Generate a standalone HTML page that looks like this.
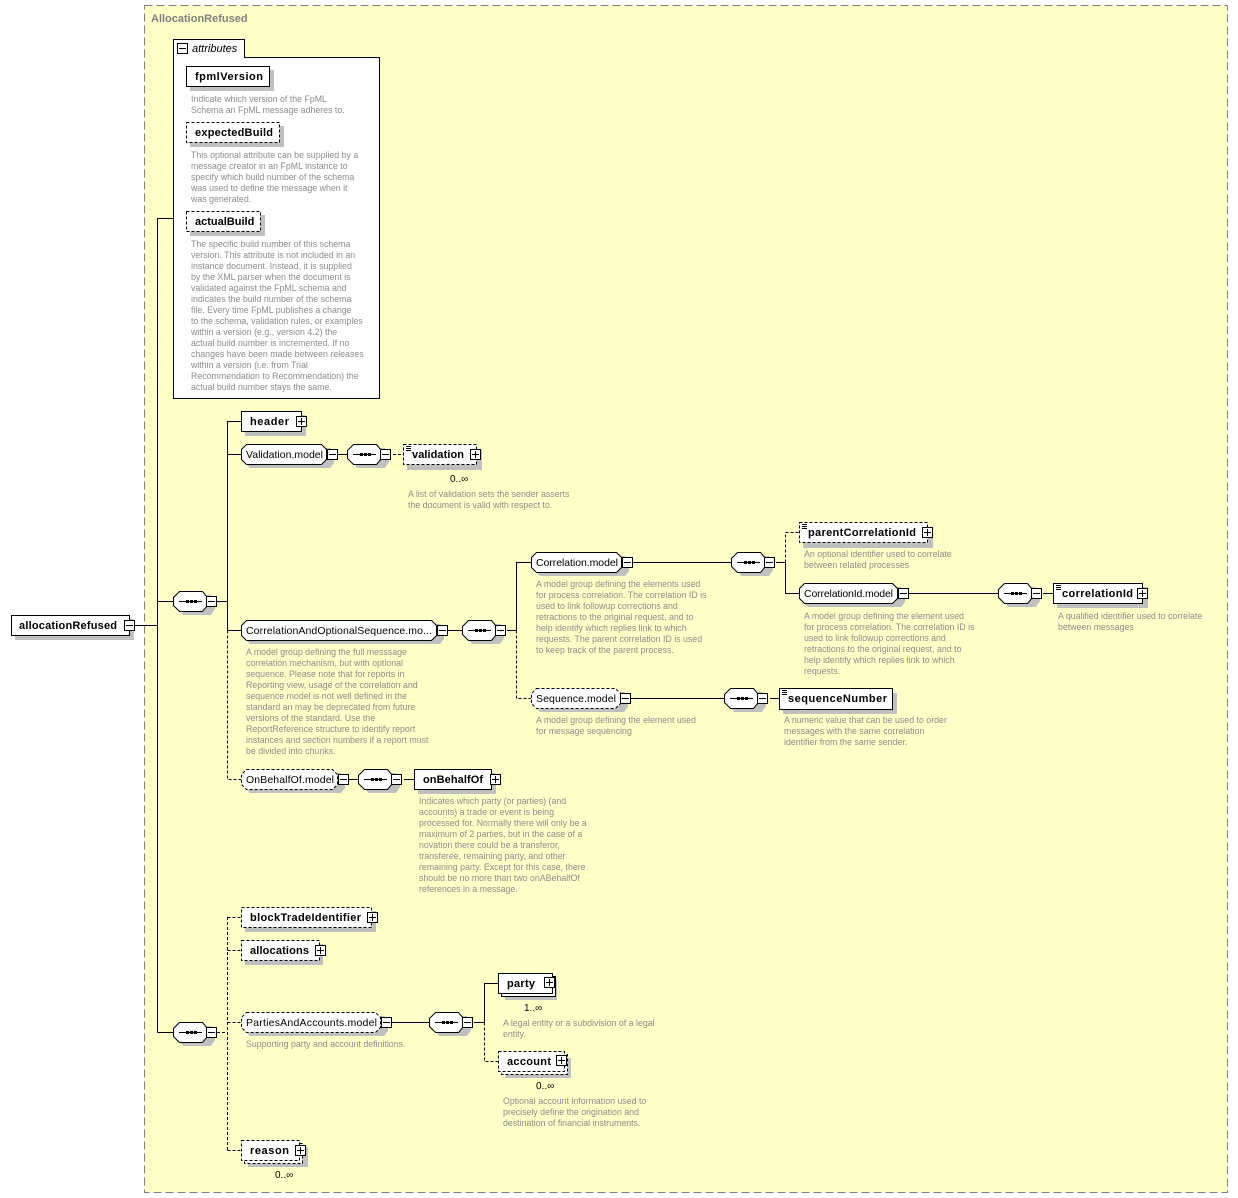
<!DOCTYPE html>
<html><head><meta charset="utf-8"><style>
html,body{margin:0;padding:0;background:#fff}
svg{display:block}
text{font-family:"Liberation Sans",sans-serif}
.b{font-weight:bold;font-size:11px;fill:#000}
.m{font-size:10.5px;fill:#000}
.d{font-size:8.8px;fill:#8c8c8c}
.sh{fill:#c0c0c0}
.w{fill:#fff;stroke:#000;stroke-width:1}
.wd{fill:#fff;stroke:#000;stroke-width:1;stroke-dasharray:3,2}
.l{stroke:#000;stroke-width:1;fill:none}
.ld{stroke:#000;stroke-width:1;fill:none;stroke-dasharray:3,2}
</style></head><body>
<svg width="1238" height="1198" viewBox="0 0 1238 1198" xmlns="http://www.w3.org/2000/svg">
<defs>
<g id="mi"><rect x="0.5" y="0.5" width="10" height="10" fill="#fff" stroke="#000"/><line x1="2" y1="5.5" x2="9" y2="5.5" stroke="#000"/></g>
<g id="pl"><rect x="0.5" y="0.5" width="10" height="10" fill="#fff" stroke="#000"/><line x1="2" y1="5.5" x2="9" y2="5.5" stroke="#000"/><line x1="5.5" y1="2" x2="5.5" y2="9" stroke="#000"/></g>
<g id="seq"><polygon class="sh" points="10,4 38,4 42,10 42,18 38,24 10,24 6,18 6,10"/><polygon class="w" points="6.5,0.5 29.5,0.5 34.5,6.5 34.5,14.5 29.5,20.5 6.5,20.5 0.5,14.5 0.5,6.5"/><line x1="6" y1="10.5" x2="29" y2="10.5" stroke="#000"/><rect x="13" y="9" width="3" height="3"/><rect x="17" y="9" width="3" height="3"/><rect x="21" y="9" width="3" height="3"/><use href="#mi" x="33" y="5"/></g>
<g id="lst"><line x1="1" y1="1.5" x2="6" y2="1.5" stroke="#000"/><line x1="1" y1="3.5" x2="6" y2="3.5" stroke="#000"/><line x1="1" y1="5.5" x2="6" y2="5.5" stroke="#000"/></g>
</defs>

<rect x="144.5" y="5.5" width="1083" height="1187" fill="#ffffc8" stroke="#808080" stroke-dasharray="8,4"/>
<text x="151" y="22" style="font-size:11px;font-weight:bold;fill:#808080">AllocationRefused</text>

<rect x="173.5" y="39.5" width="71" height="18" fill="#fff" stroke="#000"/>
<rect x="173.5" y="57.5" width="206" height="341" fill="#fff" stroke="#000"/>
<line x1="174" y1="57.5" x2="244" y2="57.5" stroke="#fff"/>
<use href="#mi" x="177" y="43"/>
<text x="192" y="52" style="font-size:11px;font-style:italic">attributes</text>

<rect class="sh" x="190" y="70" width="84" height="21"/>
<rect class="w" x="186.5" y="66.5" width="83" height="20"/>
<text class="b" x="195" y="80" textLength="68">fpmlVersion</text>
<text class="d"><tspan x="191" y="102">Indicate which version of the FpML</tspan><tspan x="191" y="113">Schema an FpML message adheres to.</tspan></text>

<rect class="sh" x="190" y="126" width="94" height="21"/>
<rect class="wd" x="186.5" y="122.5" width="93" height="20"/>
<text class="b" x="195" y="136" textLength="78">expectedBuild</text>
<text class="d"><tspan x="191" y="158">This optional attribute can be supplied by a</tspan><tspan x="191" y="169">message creator in an FpML instance to</tspan><tspan x="191" y="180">specify which build number of the schema</tspan><tspan x="191" y="191">was used to define the message when it</tspan><tspan x="191" y="202">was generated.</tspan></text>

<rect class="sh" x="190" y="215" width="75" height="21"/>
<rect class="wd" x="186.5" y="211.5" width="74" height="20"/>
<text class="b" x="195" y="225">actualBuild</text>
<text class="d"><tspan x="191" y="247">The specific build number of this schema</tspan><tspan x="191" y="258">version. This attribute is not included in an</tspan><tspan x="191" y="269">instance document. Instead, it is supplied</tspan><tspan x="191" y="280">by the XML parser when the document is</tspan><tspan x="191" y="291">validated against the FpML schema and</tspan><tspan x="191" y="302">indicates the build number of the schema</tspan><tspan x="191" y="313">file. Every time FpML publishes a change</tspan><tspan x="191" y="324">to the schema, validation rules, or examples</tspan><tspan x="191" y="335">within a version (e.g., version 4.2) the</tspan><tspan x="191" y="346">actual build number is incremented. If no</tspan><tspan x="191" y="357">changes have been made between releases</tspan><tspan x="191" y="368">within a version (i.e. from Trial</tspan><tspan x="191" y="379">Recommendation to Recommendation) the</tspan><tspan x="191" y="390">actual build number stays the same.</tspan></text>

<rect class="sh" x="15" y="619" width="119" height="21"/>
<rect class="w" x="11.5" y="615.5" width="118" height="20"/>
<text class="b" x="19" y="629" textLength="98">allocationRefused</text>
<use href="#mi" x="124" y="620"/>
<path class="l" d="M135 625.5H157.5M157.5 218V1032.5M157.5 218.5H173M157.5 601.5H173M157.5 1032.5H173"/>

<use href="#seq" x="173" y="591"/>
<path class="l" d="M217 601.5H227.5M227.5 421V630.5M227.5 421.5H241M227.5 454.5H241M227.5 630.5H241"/>
<path class="ld" d="M227.5 630.5V779.5H241"/>

<rect class="sh" x="245" y="415" width="61" height="21"/>
<rect class="w" x="241.5" y="411.5" width="60" height="20"/>
<text class="b" x="250" y="425" textLength="39">header</text>
<use href="#pl" x="296" y="416"/>

<polygon class="sh" points="250,448 330,448 334,453 334,463 330,468 250,468 245,463 245,453"/>
<polygon class="w" points="246.5,444.5 321.5,444.5 326.5,449.5 326.5,459.5 321.5,464.5 246.5,464.5 241.5,459.5 241.5,449.5"/>
<text class="m" x="246" y="458" textLength="77">Validation.model</text>
<use href="#mi" x="327" y="449"/>
<path class="l" d="M338 454.5H347"/>
<use href="#seq" x="347" y="444"/>
<path class="ld" d="M393 454.5H403"/>
<rect class="sh" x="407" y="449" width="75" height="21"/>
<rect class="wd" x="403.5" y="444.5" width="73" height="20"/>
<use href="#lst" x="405" y="445"/>
<text class="b" x="412" y="458" textLength="52">validation</text>
<use href="#pl" x="470" y="449"/>
<text class="m" x="450" y="482" style="font-size:10px">0..∞</text>
<text class="d"><tspan x="408" y="497">A list of validation sets the sender asserts</tspan><tspan x="408" y="508">the document is valid with respect to.</tspan></text>

<polygon class="sh" points="250,624 440,624 444,629 444,639 440,644 250,644 245,639 245,629"/>
<polygon class="w" points="246.5,620.5 431.5,620.5 436.5,625.5 436.5,635.5 431.5,640.5 246.5,640.5 241.5,635.5 241.5,625.5"/>
<text class="m" x="246" y="634" textLength="186">CorrelationAndOptionalSequence.mo...</text>
<use href="#mi" x="437" y="625"/>
<path class="l" d="M448 630.5H462"/>
<use href="#seq" x="462" y="620"/>
<path class="l" d="M507 630.5H516.5M516.5 630.5V562.5H531"/>
<path class="ld" d="M516.5 630.5V698.5H531"/>
<text class="d"><tspan x="246" y="655">A model group defining the full messsage</tspan><tspan x="246" y="666">correlation mechanism, but with optional</tspan><tspan x="246" y="677">sequence. Please note that for reports in</tspan><tspan x="246" y="688">Reporting view, usage of the correlation and</tspan><tspan x="246" y="699">sequence model is not well defined in the</tspan><tspan x="246" y="710">standard an may be deprecated from future</tspan><tspan x="246" y="721">versions of the standard. Use the</tspan><tspan x="246" y="732">ReportReference structure to identify report</tspan><tspan x="246" y="743">instances and section numbers if a report must</tspan><tspan x="246" y="754">be divided into chunks.</tspan></text>

<polygon class="sh" points="540,556 625,556 629,561 629,571 625,576 540,576 535,571 535,561"/>
<polygon class="w" points="536.5,552.5 616.5,552.5 621.5,557.5 621.5,567.5 616.5,572.5 536.5,572.5 531.5,567.5 531.5,557.5"/>
<text class="m" x="536" y="566" textLength="82">Correlation.model</text>
<use href="#mi" x="622" y="557"/>
<path class="l" d="M633 562.5H731"/>
<use href="#seq" x="731" y="552"/>
<path class="l" d="M776 562.5H785.5M785.5 562.5V593.5H799"/>
<path class="ld" d="M785.5 562.5V532.5H799"/>
<text class="d"><tspan x="536" y="587">A model group defining the elements used</tspan><tspan x="536" y="598">for process correlation. The correlation ID is</tspan><tspan x="536" y="609">used to link followup corrections and</tspan><tspan x="536" y="620">retractions to the original request, and to</tspan><tspan x="536" y="631">help identify which replies link to which</tspan><tspan x="536" y="642">requests. The parent correlation ID is used</tspan><tspan x="536" y="653">to keep track of the parent process.</tspan></text>

<rect class="sh" x="803" y="527" width="130" height="21"/>
<rect class="wd" x="799.5" y="522.5" width="128" height="20"/>
<use href="#lst" x="801" y="523"/>
<text class="b" x="808" y="536" textLength="108">parentCorrelationId</text>
<use href="#pl" x="922" y="527"/>
<text class="d"><tspan x="804" y="557">An optional identifier used to correlate</tspan><tspan x="804" y="568">between related processes</tspan></text>

<polygon class="sh" points="808,587 901,587 905,592 905,602 901,607 808,607 803,602 803,592"/>
<polygon class="w" points="804.5,583.5 892.5,583.5 897.5,588.5 897.5,598.5 892.5,603.5 804.5,603.5 799.5,598.5 799.5,588.5"/>
<text class="m" x="804" y="597" textLength="89">CorrelationId.model</text>
<use href="#mi" x="898" y="588"/>
<path class="l" d="M909 593.5H998"/>
<use href="#seq" x="998" y="583"/>
<path class="l" d="M1043 593.5H1053"/>
<text class="d"><tspan x="804" y="619">A model group defining the element used</tspan><tspan x="804" y="630">for process correlation. The correlation ID is</tspan><tspan x="804" y="641">used to link followup corrections and</tspan><tspan x="804" y="652">retractions to the original request, and to</tspan><tspan x="804" y="663">help identify which replies link to which</tspan><tspan x="804" y="674">requests.</tspan></text>

<rect class="sh" x="1057" y="587" width="91" height="21"/>
<rect class="w" x="1053.5" y="583.5" width="89" height="20"/>
<use href="#lst" x="1055" y="584"/>
<text class="b" x="1062" y="597" textLength="71">correlationId</text>
<use href="#pl" x="1137" y="588"/>
<text class="d"><tspan x="1058" y="619">A qualified identifier used to correlate</tspan><tspan x="1058" y="630">between messages</tspan></text>

<polygon class="sh" points="540,692 624,692 628,697 628,707 624,712 540,712 535,707 535,697"/>
<polygon class="wd" points="536.5,688.5 615.5,688.5 620.5,693.5 620.5,703.5 615.5,708.5 536.5,708.5 531.5,703.5 531.5,693.5"/>
<text class="m" x="536" y="702" textLength="80">Sequence.model</text>
<use href="#mi" x="620" y="693"/>
<path class="l" d="M631 698.5H724"/>
<use href="#seq" x="724" y="688"/>
<path class="l" d="M770 698.5H779"/>
<text class="d"><tspan x="536" y="723">A model group defining the element used</tspan><tspan x="536" y="734">for message sequencing</tspan></text>

<rect class="sh" x="783" y="693" width="114" height="21"/>
<rect class="w" x="779.5" y="688.5" width="113" height="21"/>
<use href="#lst" x="781" y="689"/>
<text class="b" x="788" y="702" textLength="99">sequenceNumber</text>
<text class="d"><tspan x="784" y="723">A numeric value that can be used to order</tspan><tspan x="784" y="734">messages with the same correlation</tspan><tspan x="784" y="745">identifier from the same sender.</tspan></text>

<polygon class="sh" points="250,773 341,773 345,778 345,788 341,793 250,793 245,788 245,778"/>
<polygon class="wd" points="246.5,769.5 332.5,769.5 337.5,774.5 337.5,784.5 332.5,789.5 246.5,789.5 241.5,784.5 241.5,774.5"/>
<text class="m" x="246" y="783" textLength="88">OnBehalfOf.model</text>
<use href="#mi" x="338" y="774"/>
<path class="l" d="M349 779.5H358"/>
<use href="#seq" x="358" y="769"/>
<path class="l" d="M404 779.5H414"/>
<rect class="sh" x="418" y="773" width="78" height="21"/>
<rect class="w" x="414.5" y="769.5" width="77" height="20"/>
<text class="b" x="423" y="783" textLength="60">onBehalfOf</text>
<use href="#pl" x="490" y="774"/>
<text class="d"><tspan x="419" y="804">Indicates which party (or parties) (and</tspan><tspan x="419" y="815">accounts) a trade or event is being</tspan><tspan x="419" y="826">processed for. Normally there will only be a</tspan><tspan x="419" y="837">maximum of 2 parties, but in the case of a</tspan><tspan x="419" y="848">novation there could be a transferor,</tspan><tspan x="419" y="859">transferee, remaining party, and other</tspan><tspan x="419" y="870">remaining party. Except for this case, there</tspan><tspan x="419" y="881">should be no more than two onABehalfOf</tspan><tspan x="419" y="892">references in a message.</tspan></text>

<use href="#seq" x="173" y="1022"/>
<path class="ld" d="M217 1032.5H227.5M227.5 917V1150.5M227.5 917.5H241M227.5 950.5H241M227.5 1022.5H241M227.5 1150.5H241"/>

<rect class="sh" x="245" y="911" width="131" height="21"/>
<rect class="wd" x="241.5" y="907.5" width="130" height="20"/>
<text class="b" x="250" y="921" textLength="111">blockTradeIdentifier</text>
<use href="#pl" x="367" y="912"/>

<rect class="sh" x="245" y="944" width="78" height="21"/>
<rect class="wd" x="241.5" y="940.5" width="78" height="20"/>
<text class="b" x="250" y="954" textLength="59">allocations</text>
<use href="#pl" x="315" y="945"/>

<polygon class="sh" points="250,1016 384,1016 388,1021 388,1031 384,1036 250,1036 245,1031 245,1021"/>
<polygon class="wd" points="246.5,1012.5 375.5,1012.5 380.5,1017.5 380.5,1027.5 375.5,1032.5 246.5,1032.5 241.5,1027.5 241.5,1017.5"/>
<text class="m" x="246" y="1026" textLength="131">PartiesAndAccounts.model</text>
<use href="#mi" x="381" y="1017"/>
<path class="l" d="M392 1022.5H429"/>
<use href="#seq" x="429" y="1012"/>
<path class="l" d="M474 1022.5H484.5M484.5 1022.5V983.5H498"/>
<path class="ld" d="M484.5 1022.5V1061.5H498"/>
<text class="d"><tspan x="246" y="1047">Supporting party and account definitions.</tspan></text>

<rect class="sh" x="505" y="980" width="52" height="20"/>
<rect class="w" x="501.5" y="976.5" width="54" height="20"/>
<rect class="w" x="498.5" y="973.5" width="54" height="20"/>
<text class="b" x="507" y="987" textLength="28">party</text>
<use href="#pl" x="544" y="977"/>
<text class="m" x="524" y="1011" style="font-size:10px">1..∞</text>
<text class="d"><tspan x="503" y="1026">A legal entity or a subdivision of a legal</tspan><tspan x="503" y="1037">entity.</tspan></text>

<rect class="sh" x="505" y="1058" width="66" height="20"/>
<rect class="wd" x="501.5" y="1054.5" width="66" height="20"/>
<rect class="wd" x="498.5" y="1051.5" width="66" height="20"/>
<text class="b" x="507" y="1065" textLength="44">account</text>
<use href="#pl" x="556" y="1055"/>
<text class="m" x="536" y="1089" style="font-size:10px">0..∞</text>
<text class="d"><tspan x="503" y="1104">Optional account information used to</tspan><tspan x="503" y="1115">precisely define the origination and</tspan><tspan x="503" y="1126">destination of financial instruments.</tspan></text>

<rect class="sh" x="248" y="1147" width="60" height="20"/>
<rect class="wd" x="244.5" y="1143.5" width="58" height="20"/>
<rect class="wd" x="241.5" y="1140.5" width="58" height="20"/>
<text class="b" x="250" y="1154" textLength="39">reason</text>
<use href="#pl" x="295" y="1145"/>
<text class="m" x="275" y="1178" style="font-size:10px">0..∞</text>
</svg>
</body></html>
